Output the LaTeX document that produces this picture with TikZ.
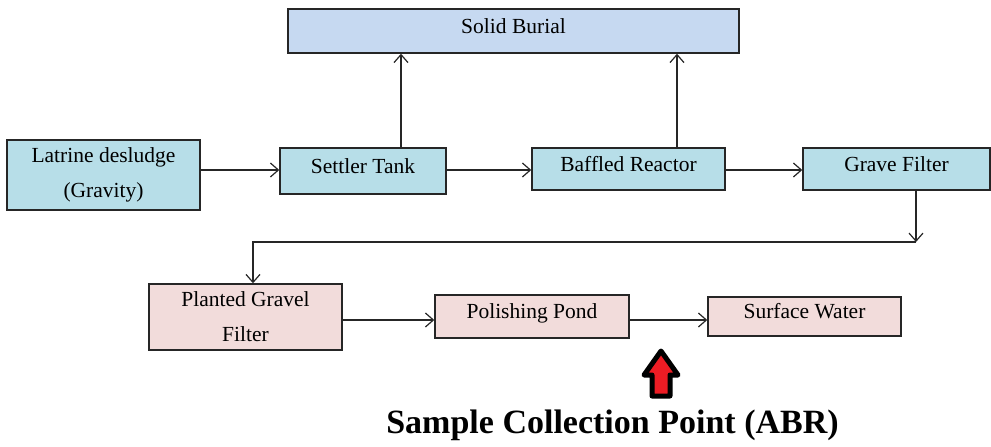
\documentclass[tikz,border=0pt]{standalone}
\usepackage{fontspec}
\setmainfont{Liberation Serif}
\usetikzlibrary{arrows.meta}
\definecolor{bluebox}{HTML}{B7DEE8}
\definecolor{topbox}{HTML}{C6D9F1}
\definecolor{pinkbox}{HTML}{F2DCDB}
\definecolor{edge}{HTML}{262626}
\definecolor{redfill}{HTML}{ED1C24}
\begin{document}
\begin{tikzpicture}[x=1pt,y=-1pt,
  box/.style={draw=edge,line width=1.4pt,inner sep=0pt,align=center,
    font=\fontsize{21.5}{35}\selectfont},
  oneline/.style={text height=15pt,text depth=11pt},
  arr/.style={draw=edge,line width=1.2pt,-{Straight Barb[length=8pt,width=14pt,line width=1.2pt]}}]
\useasboundingbox (0,0) rectangle (991,447);
% boxes
\node[box,oneline,fill=topbox,minimum width=451pt,minimum height=44pt] (solid) at (513.5,31) {Solid Burial};
\node[box,fill=bluebox,minimum width=193pt,minimum height=70pt] (latrine) at (103.5,175) {Latrine desludge\\(Gravity)};
\node[box,oneline,fill=bluebox,minimum width=166pt,minimum height=46pt] (settler) at (363,171) {Settler Tank};
\node[box,oneline,fill=bluebox,minimum width=193pt,minimum height=42pt] (baffled) at (628.5,169) {Baffled Reactor};
\node[box,oneline,fill=bluebox,minimum width=187pt,minimum height=42pt] (grave) at (896.5,169) {Grave Filter};
\node[box,fill=pinkbox,minimum width=193pt,minimum height=66pt] (planted) at (245.5,317) {Planted Gravel\\Filter};
\node[box,oneline,fill=pinkbox,minimum width=194pt,minimum height=43pt] (polish) at (532,316.5) {Polishing Pond};
\node[box,oneline,fill=pinkbox,minimum width=193pt,minimum height=39pt] (surface) at (804.5,316.5) {Surface Water};
% connectors
\draw[arr] (latrine.east |- 0,170) -- (settler.west |- 0,170);
\draw[arr] (settler.east |- 0,170) -- (baffled.west |- 0,170);
\draw[arr] (baffled.east |- 0,170) -- (grave.west |- 0,170);
\draw[arr] (settler.north -| 401,0) -- (solid.south -| 401,0);
\draw[arr] (baffled.north -| 677,0) -- (solid.south -| 677,0);
\coordinate (turn) at (916,242);
\draw[arr] (grave.south -| turn) -- (turn);
\draw[arr] (turn) -| (planted.north -| 253,0);
\draw[arr] (planted.east |- 0,320) -- (polish.west |- 0,320);
\draw[arr] (polish.east |- 0,320) -- (surface.west |- 0,320);
% sample point arrow
\draw[line width=5pt,line join=round,draw=black,fill=redfill]
  (661,351) -- (678,375) -- (670,375) -- (670,396) -- (652,396) -- (652,375) -- (644,375) -- cycle;
\node[anchor=base,inner sep=0pt,font=\fontsize{34}{40}\selectfont\bfseries] (sample) at (612.5,433) {Sample Collection Point (ABR)};
\end{tikzpicture}
\end{document}
